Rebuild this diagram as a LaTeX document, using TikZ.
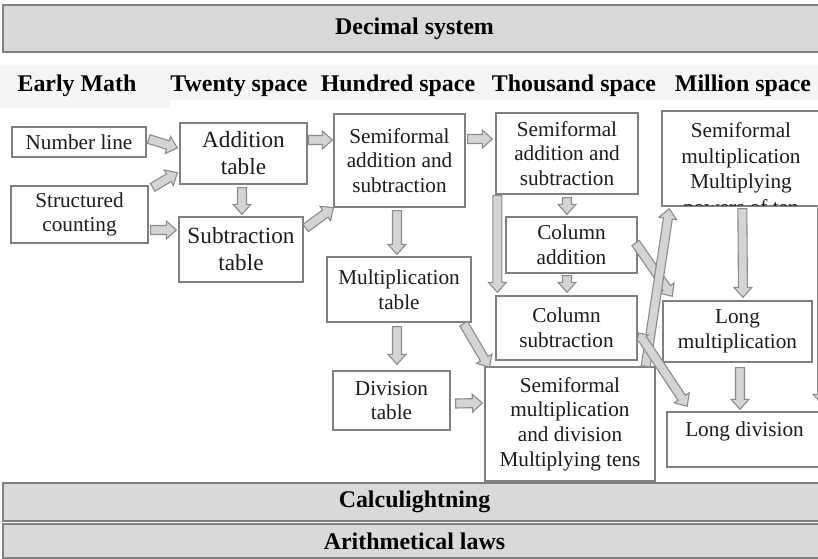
\documentclass[tikz,border=0pt]{standalone}
\usepackage{fontspec}
\setmainfont{Liberation Serif}
\usetikzlibrary{calc}
\definecolor{boxline}{RGB}{128,128,128}
\definecolor{bandgray}{RGB}{217,217,217}
\definecolor{headband}{RGB}{245,245,245}
\definecolor{arrowfill}{RGB}{212,212,212}
\definecolor{arrowline}{RGB}{140,140,140}
\definecolor{inkgray}{RGB}{28,28,28}

% block arrow from #1 to #2
\newcommand{\blockarrow}[2]{%
  \path[blockarr] let \p1=(#1), \p2=(#2),
    \n1={atan2(\y2-\y1,\x2-\x1)}, \n2={veclen(\x2-\x1,\y2-\y1)} in
    [shift={(\p1)}, rotate=\n1]
    (0pt,-4.5pt) -- ({\n2*1pt-10pt},-4.5pt) -- ({\n2*1pt-10pt},-9pt) -- ({\n2*1pt},0pt)
    -- ({\n2*1pt-10pt},9pt) -- ({\n2*1pt-10pt},4.5pt) -- (0pt,4.5pt) -- cycle;}
% same, with a small head at the start too
\newcommand{\dblockarrow}[2]{%
  \path[blockarr] let \p1=(#1), \p2=(#2),
    \n1={atan2(\y2-\y1,\x2-\x1)}, \n2={veclen(\x2-\x1,\y2-\y1)} in
    [shift={(\p1)}, rotate=\n1]
    (0pt,0pt) -- (7pt,-7pt) -- (7pt,-4.5pt) -- ({\n2*1pt-10pt},-4.5pt) -- ({\n2*1pt-10pt},-9pt)
    -- ({\n2*1pt},0pt) -- ({\n2*1pt-10pt},9pt) -- ({\n2*1pt-10pt},4.5pt) -- (7pt,4.5pt)
    -- (7pt,7pt) -- cycle;}

\begin{document}
\begin{tikzpicture}[x=1bp, y=-1bp,
    box/.style={draw=boxline, line width=1.3bp, fill=white, align=center,
      inner sep=0pt, text=inkgray, font=\fontsize{21.3}{24.8}\selectfont},
    bigbox/.style={box, font=\fontsize{23.3}{27}\selectfont},
    banner/.style={draw=boxline, line width=1.6bp, fill=bandgray, inner sep=0pt,
      font=\bfseries\fontsize{24}{28}\selectfont},
    colhead/.style={font=\bfseries\fontsize{24}{28}\selectfont, inner sep=0pt},
    blockarr/.style={draw=arrowline, fill=arrowfill, line width=1.1bp, line join=miter}]
    \useasboundingbox (0,0) rectangle (818,559);
    \clip (0,0) rectangle (818,559);

    % Banners
    \node[banner, minimum width=823bp, minimum height=47bp] (decimal) at (414.5,28.5) {Decimal system};
    \node[banner, minimum width=823bp, minimum height=38bp] (calcu) at (414.5,502) {Calculightning};
    \node[banner, minimum width=823bp, minimum height=34bp] (laws) at (414.5,541) {Arithmetical laws};

    % Column heads
    \fill[headband] (0,65) -- (818,65) -- (818,100) -- (170,100) -- (170,108) -- (0,108) -- cycle;
    \node[colhead] (hearly) at (77,86) {Early Math};
    \node[colhead] (htwenty) at (239,86) {Twenty space};
    \node[colhead] (hhundred) at (398,86) {Hundred space};
    \node[colhead] (hthousand) at (574,86) {Thousand space};
    \node[colhead] (hmillion) at (743,86) {Million space};

    % Early math
    \node[box, minimum width=134bp, minimum height=30bp] (numline) at (79,142) {Number line};
    \node[box, minimum width=137bp, minimum height=57bp] (structured) at (79.5,214.5) {Structured\\counting};

    % Twenty space
    \node[bigbox, minimum width=127bp, minimum height=61bp] (addtab) at (243.5,153.5) {Addition\\table};
    \node[bigbox, minimum width=124bp, minimum height=65bp] (subtab) at (241,249.5) {Subtraction\\table};

    % Hundred space
    \node[box, minimum width=131bp, minimum height=93bp] (semihund) at (399.5,160.5) {Semiformal\\addition and\\subtraction};
    \node[box, minimum width=144bp, minimum height=65bp] (multab) at (399,289.5) {Multiplication\\table};
    \node[box, minimum width=117bp, minimum height=59bp] (divtab) at (391.5,400.5) {Division\\table};

    % Thousand space
    \node[box, minimum width=142bp, minimum height=81bp] (semithou) at (567,153.5) {Semiformal\\addition and\\subtraction};
    \node[box, minimum width=131bp, minimum height=56bp] (coladd) at (571.5,245) {Column\\addition};
    \node[box, minimum width=141bp, minimum height=64bp] (colsub) at (566.5,328) {Column\\subtraction};
    \node[box, minimum width=170bp, minimum height=114bp] (semimd) at (570,424) {Semiformal\\multiplication\\and division\\Multiplying tens};

    % Million space
    \node[box, minimum width=160bp, minimum height=95bp] (semipow) at (742,158.5) {};
    \begin{scope}
      \clip ($(semipow.south west)+(0,-1)$) rectangle (semipow.north east);
      \node[box, draw=none, fill=none, anchor=north, font=\fontsize{21.3}{25.6}\selectfont]
        (semipowtext) at (741,122) {Semiformal\\multiplication\\Multiplying\\powers of ten};
    \end{scope}
    \node[box, minimum width=149bp, minimum height=61bp] (longmul) at (737.5,331.5) {Long\\multiplication};
    \node[box, minimum width=155bp, text height=24bp, text depth=31bp] (longdiv) at (744.5,439.5) {Long division};

    % Arrows
    \blockarrow{$(numline.east)+(2,-3)$}{$(addtab.west)+(-2,-5.5)$}
    \blockarrow{$(structured.north east)+(4,2)$}{$(addtab.south west)+(-2,-12)$}
    \blockarrow{$(structured.east)+(2,15.5)$}{$(subtab.west)+(-2,-19.5)$}
    \blockarrow{$(addtab.south)+(-1.5,3)$}{$(subtab.north)+(1,-2)$}
    \blockarrow{$(addtab.east)+(1,-13.5)$}{$(semihund.west)+(-1,-20.5)$}
    \blockarrow{$(subtab.east)+(2,-21.5)$}{semihund.south west}
    \blockarrow{$(semihund.south)+(-2.5,3)$}{$(multab.north)+(-2,-2)$}
    \blockarrow{$(semihund.east)+(2,-21.5)$}{$(semithou.west)+(-3,-14.5)$}
    \blockarrow{$(multab.south)+(-2,4)$}{$(divtab.north)+(5.5,-6)$}
    \blockarrow{$(divtab.east)+(5,3)$}{$(semimd.west)+(-2,-21)$}
    \blockarrow{$(multab.south east)+(-8,1)$}{$(semimd.north west)+(5,1)$}
    \blockarrow{$(semithou.south)+(0,3)$}{$(coladd.north)+(-4.5,-2)$}
    \blockarrow{$(semithou.south west)+(2,1)$}{$(colsub.north west)+(2,-3)$}
    \blockarrow{$(coladd.south)+(-4.5,2)$}{$(colsub.north)+(0.5,-3)$}
    \blockarrow{$(coladd.east)+(-2,-2)$}{$(longmul.north west)+(10,-4)$}
    \blockarrow{$(semimd.north east)+(-10,0)$}{$(semipow.south west)+(8,2)$}
    \dblockarrow{$(colsub.east)+(1,5)$}{$(longdiv.north west)+(21,-5)$}
    \blockarrow{$(semipow.south west)+(81,2)$}{$(longmul.north)+(5.5,-3)$}
    \blockarrow{$(longmul.south)+(2.5,5)$}{$(longdiv.north)+(-4.5,-2)$}
    \blockarrow{$(semipow.south east)+(-0.5,0)$}{$(longdiv.north east)+(-0.5,-7)$}
\end{tikzpicture}
\end{document}
